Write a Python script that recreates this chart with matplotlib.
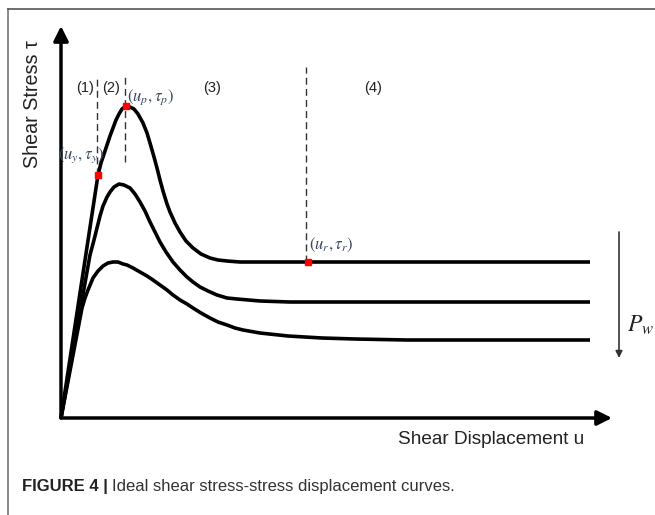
import matplotlib
matplotlib.use("Agg")
import matplotlib.pyplot as plt
from matplotlib.lines import Line2D

plt.rcParams['font.family'] = ['Liberation Sans', 'DejaVu Sans']
plt.rcParams['mathtext.fontset'] = 'stix'

# ---- data (arbitrary units: displacement u, shear stress tau) ----
u_top = [0, 19, 37, 40, 43, 46, 49, 52, 55, 58, 61, 65, 69, 73, 77, 82, 86, 89, 93,
         96, 99, 102, 106, 109, 114, 119, 125, 132, 140, 149, 157, 166, 179, 199, 529]
tau_top = [0, 125, 243, 255, 264, 273, 282, 290, 298, 304, 309, 312, 311, 309, 304,
           295, 285, 275, 261, 250, 238, 227, 214, 206, 195, 186, 177, 170, 164, 160,
           158, 157, 156, 156, 156]

u_mid = [0, 29, 33, 36, 39, 42, 46, 49, 53, 58, 63, 69, 74, 79, 84, 89, 94, 99, 105,
         112, 119, 126, 132, 139, 147, 156, 166, 176, 199, 229, 529]
tau_mid = [0, 163, 178, 190, 202, 212, 221, 226, 231, 234, 233, 230, 224, 216, 207,
           196, 186, 176, 166, 156, 148, 141, 136, 131, 127, 123, 120, 119, 117, 116, 116]

u_bot = [0, 21, 24, 27, 32, 37, 42, 47, 52, 57, 62, 66, 72, 79, 86, 92, 99, 106, 112,
         119, 126, 132, 140, 149, 157, 166, 174, 182, 199, 227, 261, 294, 346, 529]
tau_bot = [0, 110, 120, 128, 140, 147, 152, 155, 156, 156, 154, 153, 150, 146, 142,
           138, 133, 128, 123, 118, 114, 110, 105, 100, 96, 93, 90, 88, 85, 82, 80,
           79, 78, 78]

# characteristic points: yield, peak, residual
pt_u = [37, 65, 247]
pt_tau = [243, 312, 156]
pt_labels = [r'$\left(u_y,\tau_y\right)$', r'$\left(u_p,\tau_p\right)$',
             r'$\left(u_r,\tau_r\right)$']

# stage boundaries (u, tau_low, tau_high)
bound_u = [36, 64, 245]
bound_lo = [243, 256, 156]
bound_hi = [341, 343, 351]
stage_labels = ['(1)', '(2)', '(3)', '(4)']
stage_u = [24, 50, 151, 312]

W, H = 655, 515
fig = plt.figure(figsize=(W / 100, H / 100), dpi=100)
ox, oy = 61, 418
ax = fig.add_axes([ox / W, (H - oy) / H, 560 / W, 400 / H])
ax.set_xlim(0, 560)
ax.set_ylim(0, 400)
ax.axis('off')

# axes arrows
ax.annotate('', xy=(0, 392), xytext=(0, 0),
            arrowprops=dict(arrowstyle='-|>', lw=2.5, color='black',
                            mutation_scale=22, shrinkA=0, shrinkB=0),
            annotation_clip=False)
ax.annotate('', xy=(551, 0), xytext=(0, 0),
            arrowprops=dict(arrowstyle='-|>', lw=2.5, color='black',
                            mutation_scale=22, shrinkA=0, shrinkB=0),
            annotation_clip=False)

# curves
for uu, tt in [(u_top, tau_top), (u_mid, tau_mid), (u_bot, tau_bot)]:
    ax.plot(uu, tt, color='black', lw=2.6, solid_joinstyle='round',
            solid_capstyle='butt', clip_on=False)

# dashed boundaries
for bu, lo, hi in zip(bound_u, bound_lo, bound_hi):
    ax.plot([bu, bu], [lo, hi], color='#333333', lw=1.0,
            linestyle=(0, (5, 3)), clip_on=False)

# red points
ax.plot(pt_u, pt_tau, 's', color='red', ms=4, mec='red', clip_on=False, zorder=5)

# point labels
lab_color = '#3a4660'
ax.text(20, 263, pt_labels[0], ha='center', va='center', fontsize=12,
        color=lab_color)
ax.text(66, 321, pt_labels[1], ha='left', va='center', fontsize=12,
        color=lab_color)
ax.text(248, 173, pt_labels[2], ha='left', va='center', fontsize=12,
        color=lab_color)

# stage labels
for s, su in zip(stage_labels, stage_u):
    ax.text(su, 330, s, ha='center', va='center', fontsize=10.5, color='#222222')

# axis labels
ax.text(-28, 314, 'Shear Stress \u03c4', rotation=90, ha='center', va='center',
        fontsize=14.2, color='#222222')
ax.text(430, -22, 'Shear Displacement u', ha='center', va='center',
        fontsize=13.7, color='#222222')

# P_w arrow
ax.annotate('', xy=(558, 60), xytext=(558, 186),
            arrowprops=dict(arrowstyle='-|>', lw=1.2, color='#333333',
                            mutation_scale=10, shrinkA=0, shrinkB=0),
            annotation_clip=False)
ax.text(566, 93, r'$P_w$', ha='left', va='center', fontsize=17, color='#222222')

# frame lines
fig.add_artist(Line2D([7.5 / W, 7.5 / W], [0, 1 - 9 / H], color='#777777',
                      lw=1.2, transform=fig.transFigure))
fig.add_artist(Line2D([7.5 / W, 1], [1 - 9 / H, 1 - 9 / H], color='#555555',
                      lw=1.2, transform=fig.transFigure))

# caption
t1 = fig.text(22 / W, 1 - 487 / H, 'FIGURE 4 |', fontsize=12, fontweight='bold',
              ha='left', va='center', color='#222222')
fig.canvas.draw()
bb = t1.get_window_extent()
fig.text((bb.x1 + 4) / W, 1 - 487 / H, 'Ideal shear stress-stress displacement curves.',
         fontsize=12, ha='left', va='center', color='#333333')

fig.savefig('out.png', dpi=100)
